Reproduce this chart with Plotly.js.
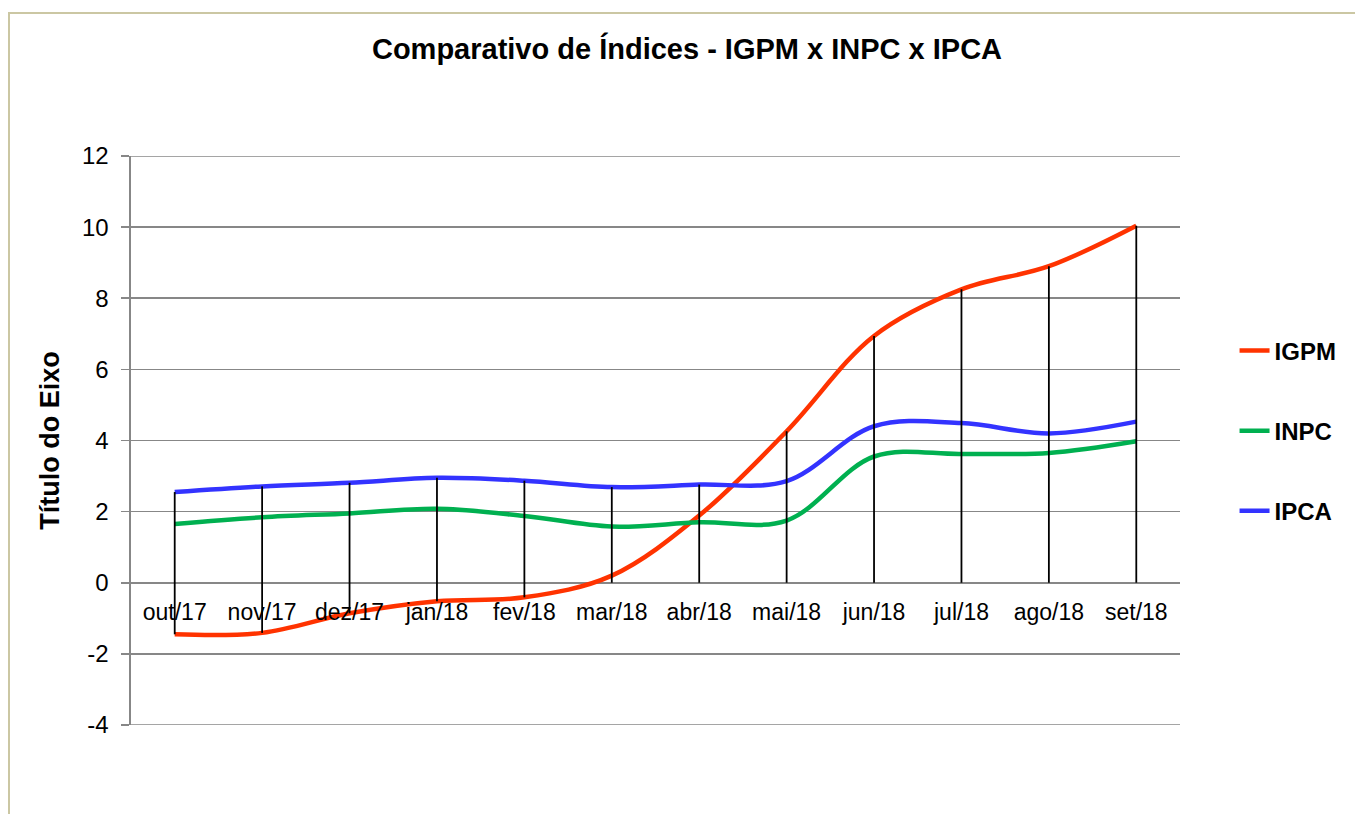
<!DOCTYPE html>
<html>
<head>
<meta charset="utf-8">
<script src="https://cdn.plot.ly/plotly-3.0.1.min.js"></script>
<style>
  html, body { margin: 0; padding: 0; background: #fff; }
  #wrap { position: relative; width: 1355px; height: 814px; }
  #chart { width: 1355px; height: 814px; }
  #frame { position: absolute; left: 8px; top: 12px; right: -4px; bottom: -4px;
           border-left: 2px solid #cbc7a3; border-top: 2px solid #cbc7a3; pointer-events: none; }
</style>
</head>
<body>
<div id="wrap">
  <div id="chart"></div>
  <div id="frame"></div>
</div>
<script>
// Data
const categories = ["out/17","nov/17","dez/17","jan/18","fev/18","mar/18","abr/18","mai/18","jun/18","jul/18","ago/18","set/18"];
const IGPM = [-1.45, -1.41, -0.86, -0.52, -0.41, 0.20, 1.89, 4.26, 6.94, 8.25, 8.90, 10.04];
const INPC = [1.65, 1.84, 1.95, 2.08, 1.88, 1.58, 1.70, 1.75, 3.55, 3.62, 3.65, 3.98];
const IPCA = [2.55, 2.71, 2.81, 2.95, 2.87, 2.69, 2.76, 2.86, 4.40, 4.49, 4.20, 4.53];
const seriesNames = ["IGPM", "INPC", "IPCA"];
const seriesColors = ["#FF3300", "#00B050", "#3333FF"];
const yTicks = [-4, -2, 0, 2, 4, 6, 8, 10, 12];

const FONT = "Liberation Sans, Arial, sans-serif";
const GRID = "#878787";
const allSeries = [IGPM, INPC, IPCA];

// Drop lines: from each category's highest point down to its lowest (incl. the 0 axis)
const dx = [], dy = [];
categories.forEach((c, i) => {
  const vals = allSeries.map(s => s[i]);
  const hi = Math.max(0, ...vals);
  const lo = Math.min(0, ...vals);
  dx.push(c, c, null);
  dy.push(lo, hi, null);
});

const traces = allSeries.map((s, k) => ({
  type: "scatter", mode: "lines",
  x: categories, y: s, name: seriesNames[k],
  legendgroup: seriesNames[k],
  line: { color: seriesColors[k], width: 4.5, shape: "spline", smoothing: 1 },
  hoverinfo: "x+y+name"
}));

traces.push({
  type: "scatter", mode: "lines", x: dx, y: dy,
  line: { color: "#000000", width: 1.8 },
  showlegend: false, hoverinfo: "skip", connectgaps: false
});

const yMin = yTicks[0], yMax = yTicks[yTicks.length - 1];

// gridlines at the two ends of the value range (Plotly omits them at the edges)
const edgeLines = [yMin, yMax].map(v => ({
  type: "line", xref: "paper", x0: 0, x1: 1, yref: "y", y0: v, y1: v,
  line: { color: GRID, width: 1.6 }, layer: "below"
}));

const layout = {
  width: 1355, height: 814,
  margin: { l: 131, r: 175, t: 156, b: 89, pad: 0 },
  paper_bgcolor: "#ffffff", plot_bgcolor: "#ffffff",
  font: { family: FONT, color: "#000000", size: 23 },
  title: {
    text: "Comparativo de Índices - IGPM x INPC x IPCA",
    font: { family: FONT, size: 29, weight: "bold", color: "#000" },
    x: 0.507, xref: "container", xanchor: "center",
    y: 0.94, yref: "container", yanchor: "middle"
  },
  xaxis: {
    type: "category", categoryorder: "array", categoryarray: categories,
    range: [-0.5, categories.length - 0.5],
    anchor: "free", position: (0 - yMin) / (yMax - yMin),
    showgrid: false, zeroline: false, showline: false,
    ticks: "", tickfont: { family: FONT, size: 23, color: "#000" },
    ticklabelstandoff: 13, fixedrange: true
  },
  yaxis: {
    range: [yMin, yMax], tickvals: yTicks, ticktext: yTicks.map(String),
    showgrid: true, gridcolor: GRID, gridwidth: 1.6,
    zeroline: false, showline: true, linecolor: GRID, linewidth: 1.6,
    ticks: "outside", ticklen: 8, tickcolor: GRID, tickwidth: 1.6,
    tickfont: { family: FONT, size: 24, color: "#000" },
    ticklabelstandoff: 8,
    title: { text: "Título do Eixo", font: { family: FONT, size: 27, weight: "bold", color: "#000" }, standoff: 14 },
    fixedrange: true
  },
  shapes: edgeLines,
  showlegend: true,
  legend: {
    x: 1.052, xanchor: "left", y: 0.517, yanchor: "middle",
    traceorder: "grouped", tracegroupgap: 46,
    font: { family: FONT, size: 24, weight: "bold", color: "#000" },
    bgcolor: "rgba(0,0,0,0)", borderwidth: 0
  }
};

Plotly.newPlot("chart", traces, layout, { displayModeBar: false, staticPlot: true });
</script>
</body>
</html>
